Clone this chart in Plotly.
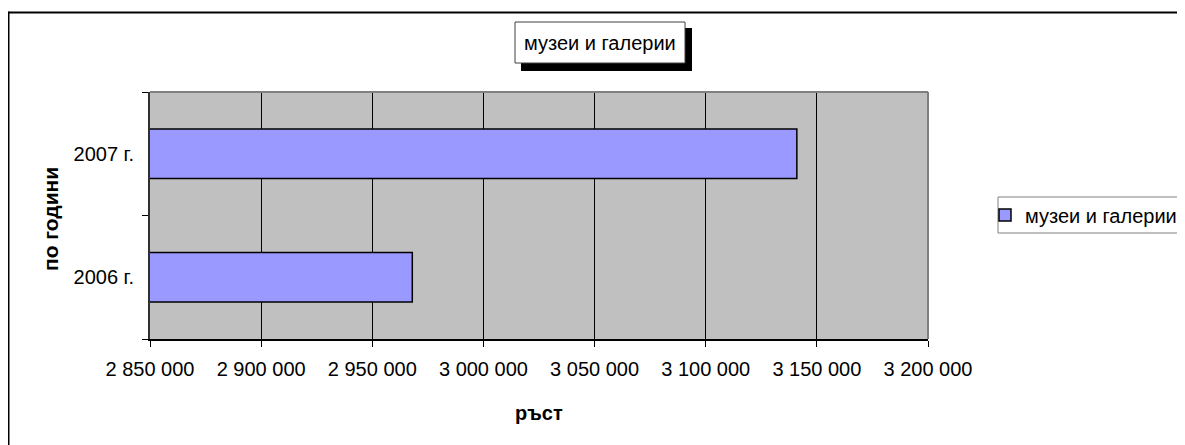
import plotly.graph_objects as go

categories = ["2006 г.", "2007 г."]
values = [2968000, 3141000]
series_name = "музеи и галерии"
title_text = "музеи и галерии"
x_title = "ръст"
y_title = "по години"
x_range = [2850000, 3200000]
x_dtick = 50000

OFF = 8  # page body margin
W, H = 1185 - OFF, 445 - OFF
# plot area in page pixels
L, R, T, B = 150, 928, 92, 339


def px(x):
    return (x - L) / (R - L)


def py(y):
    return (B - y) / (B - T)


FONT = "Arial, 'Liberation Sans', sans-serif"

fig = go.Figure(
    go.Bar(
        y=categories,
        x=values,
        orientation="h",
        name=series_name,
        marker=dict(color="#9999FF", line=dict(color="black", width=1.5)),
    )
)

shapes = [
    # outer chart border (left and top visible)
    dict(type="line", xref="paper", yref="paper", x0=px(8.5), x1=px(1400), y0=py(12.5), y1=py(12.5),
         line=dict(color="black", width=2)),
    dict(type="line", xref="paper", yref="paper", x0=px(8.5), x1=px(8.5), y0=py(11.5), y1=py(600),
         line=dict(color="black", width=2)),
    # plot area top/right border
    dict(type="line", xref="paper", yref="paper", x0=0, x1=1, y0=1, y1=1,
         line=dict(color="#808080", width=2)),
    dict(type="line", xref="paper", yref="paper", x0=1, x1=1, y0=0, y1=1,
         line=dict(color="#808080", width=2)),
    # title box shadow and box
    dict(type="rect", xref="paper", yref="paper", x0=px(521), x1=px(692), y0=py(71), y1=py(28),
         fillcolor="black", line=dict(width=0)),
    dict(type="rect", xref="paper", yref="paper", x0=px(515), x1=px(685), y0=py(63), y1=py(22),
         fillcolor="white", line=dict(color="#404040", width=1)),
    # legend box
    dict(type="rect", xref="paper", yref="paper", x0=px(998), x1=px(1300), y0=py(233), y1=py(197),
         fillcolor="white", line=dict(color="#808080", width=1), layer="below"),
]

annotations = [
    dict(text=title_text, xref="paper", yref="paper", x=px(600), y=py(43), showarrow=False,
         font=dict(family=FONT, size=20, color="black"), xanchor="center", yanchor="middle"),
    dict(text="<b>" + x_title + "</b>", xref="paper", yref="paper", x=px(539), y=py(413),
         showarrow=False, font=dict(family=FONT, size=20, color="black"),
         xanchor="center", yanchor="middle"),
    dict(text="<b>" + y_title + "</b>", xref="paper", yref="paper", x=px(50), y=py(219),
         showarrow=False, textangle=-90, font=dict(family=FONT, size=21, color="black"),
         xanchor="center", yanchor="middle"),
]

fig.update_layout(
    width=W, height=H,
    margin=dict(l=L - OFF, r=W - (R - OFF), t=T - OFF, b=H - (B - OFF), autoexpand=False),
    paper_bgcolor="white",
    plot_bgcolor="#C0C0C0",
    separators=", ",
    bargap=0.6,
    showlegend=True,
    legend=dict(
        xref="container", yref="container",
        x=(985 - OFF) / W, y=1 - (215 - OFF) / H, xanchor="left", yanchor="middle",
        bgcolor="rgba(0,0,0,0)", borderwidth=0,
        font=dict(family=FONT, size=20, color="black"),
    ),
    shapes=shapes,
    annotations=annotations,
    font=dict(family=FONT, size=20, color="black"),
)

fig.update_xaxes(
    range=x_range, dtick=x_dtick, tick0=x_range[0], tickformat=",.0f",
    showgrid=True, gridcolor="black", gridwidth=1,
    showline=True, linecolor="black", linewidth=1.5,
    ticks="outside", ticklen=6, tickcolor="black",
    tickfont=dict(family=FONT, size=20, color="black"),
    ticklabelstandoff=5,
    zeroline=False,
)
fig.update_yaxes(
    type="category", categoryorder="array", categoryarray=categories,
    showgrid=False,
    showline=True, linecolor="#303030", linewidth=2,
    ticks="outside", ticklen=6, tickcolor="black", tickson="boundaries",
    tickfont=dict(family=FONT, size=20, color="black"),
    ticklabelstandoff=10,
)

fig.write_html("out.html")
